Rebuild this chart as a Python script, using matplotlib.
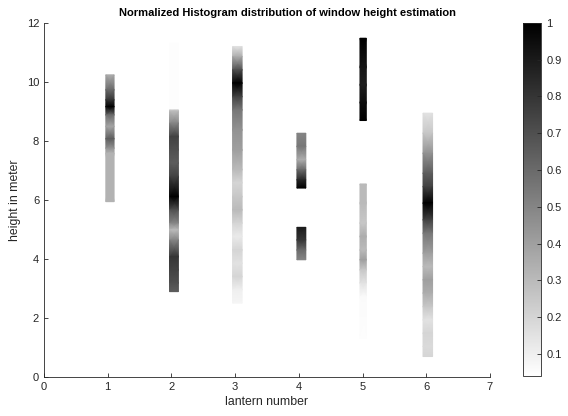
import numpy as np
import matplotlib
matplotlib.use('Agg')
import matplotlib.pyplot as plt

plt.rcParams['font.family'] = ['Liberation Sans', 'DejaVu Sans']

# --- strip data: lantern number, x span, (height, normalized value) samples ---
lanterns = [1, 2, 3, 4, 4, 5, 5, 6]
x_left = [0.97, 1.97, 2.96, 3.97, 3.97, 4.96, 4.96, 5.95]
x_right = [1.10, 2.11, 3.11, 4.11, 4.11, 5.06, 5.06, 6.10]

h1 = [10.24, 9.73, 9.39, 9.16, 8.88, 8.49, 8.07, 7.75, 7.58, 5.94]
v1 = [0.35, 0.60, 0.80, 1.00, 0.60, 0.38, 0.65, 0.45, 0.33, 0.33]

h2 = [11.31, 9.06, 9.04, 8.99, 8.60, 8.15, 7.70, 7.25, 6.79, 6.11, 5.66, 5.21, 4.98, 4.64, 4.08, 3.63, 3.18, 2.89]
v2 = [0.05, 0.05, 0.25, 0.30, 0.50, 0.75, 0.70, 0.65, 0.75, 1.00, 0.70, 0.50, 0.30, 0.50, 0.80, 0.75, 0.70, 0.65]

h3 = [11.20, 10.86, 10.41, 9.96, 9.50, 9.05, 8.37, 7.69, 7.02, 6.58, 6.11, 5.66, 5.21, 4.76, 4.30, 3.85, 3.40, 2.95, 2.50]
v3 = [0.15, 0.35, 0.70, 1.00, 0.75, 0.55, 0.45, 0.40, 0.30, 0.20, 0.25, 0.30, 0.20, 0.12, 0.20, 0.15, 0.20, 0.10, 0.08]

h4a = [8.26, 7.81, 7.36, 7.02, 6.68, 6.40]
v4a = [0.50, 0.55, 0.35, 0.60, 0.85, 1.00]

h4b = [5.07, 4.64, 4.30, 3.97]
v4b = [0.90, 0.80, 0.60, 0.50]

h5a = [11.48, 10.50, 9.90, 9.30, 8.69]
v5a = [1.00, 0.92, 0.88, 0.95, 1.00]

h5b = [6.54, 5.89, 5.21, 4.76, 4.30, 3.97, 3.63, 3.18, 2.72, 1.31]
v5b = [0.30, 0.30, 0.25, 0.35, 0.30, 0.40, 0.25, 0.15, 0.06, 0.05]

h6 = [8.94, 8.26, 7.58, 6.90, 6.45, 5.89, 5.32, 4.87, 4.19, 3.74, 3.29, 2.84, 2.38, 1.93, 1.48, 1.03, 0.69]
v6 = [0.15, 0.25, 0.45, 0.65, 0.75, 1.00, 0.75, 0.55, 0.40, 0.30, 0.40, 0.35, 0.25, 0.15, 0.20, 0.18, 0.20]

heights = [h1, h2, h3, h4a, h4b, h5a, h5b, h6]
values = [v1, v2, v3, v4a, v4b, v5a, v5b, v6]

fig = plt.figure(figsize=(5.68, 4.16), dpi=100)
ax = fig.add_axes([0.0775, 0.094, 0.785, 0.851])
cax = fig.add_axes([0.921, 0.096, 0.032, 0.849])

vmin, vmax = 0.04, 1.0
for xl, xr, h, v in zip(x_left, x_right, heights, values):
    X, Y = np.meshgrid([xl, xr], h)
    C = np.column_stack([v, v])
    mesh = ax.pcolormesh(X, Y, C, shading='gouraud', cmap='gray_r', vmin=vmin, vmax=vmax)

ax.set_xlim(0, 7)
ax.set_ylim(0, 12)
ax.set_xticks(range(8))
ax.set_yticks(range(0, 13, 2))
ax.tick_params(direction='in', length=3, labelsize=8, colors='#262626', width=0.6)
for s in ['top', 'right']:
    ax.spines[s].set_visible(False)
for s in ['left', 'bottom']:
    ax.spines[s].set_color('#262626')
    ax.spines[s].set_linewidth(0.6)
ax.set_xlabel('lantern number', fontsize=8.8, color='#262626', labelpad=3)
ax.set_ylabel('height in meter', fontsize=8.8, color='#262626', labelpad=4)
ax.set_title('Normalized Histogram distribution of window height estimation',
             fontsize=8, fontweight='bold', color='black', pad=5, x=0.545)

cb = fig.colorbar(mesh, cax=cax)
cb.set_ticks([0.1, 0.2, 0.3, 0.4, 0.5, 0.6, 0.7, 0.8, 0.9, 1])
cb.set_ticklabels(['0.1', '0.2', '0.3', '0.4', '0.5', '0.6', '0.7', '0.8', '0.9', '1'])
cb.ax.tick_params(direction='in', length=3, labelsize=8, colors='#262626', width=0.6)
cb.outline.set_edgecolor('#262626')
cb.outline.set_linewidth(0.6)

fig.savefig('out.png', dpi=100)
